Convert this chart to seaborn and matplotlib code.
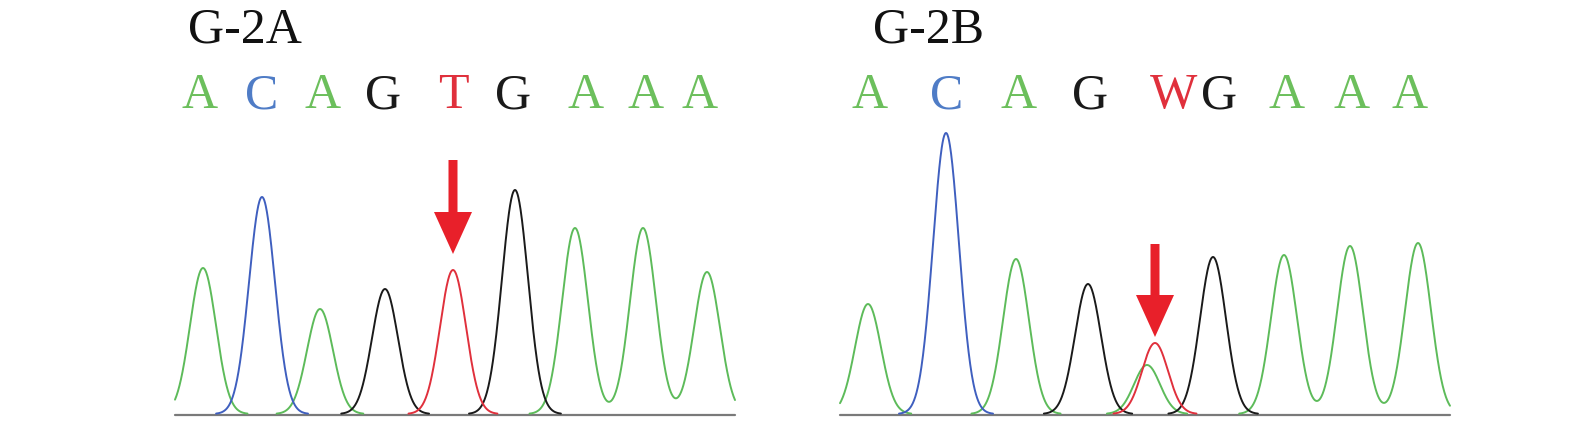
import numpy as np
import pandas as pd
import matplotlib
matplotlib.use("Agg")
import matplotlib.pyplot as plt
import seaborn as sns

sns.set_theme(style="white")
plt.rcParams['font.family'] = ['Liberation Serif', 'DejaVu Serif']

BASE = 414
# panel A
a_letters = ["A", "C", "A", "G", "T", "G", "A", "A", "A"]
a_letter_x = [200, 262, 323, 383, 453, 513, 586, 646, 700]
a_peak_x = [203, 262, 320, 385, 453, 515, 575, 643, 707]
a_peak_top = [268, 197, 309, 289, 270, 190, 228, 228, 272]
a_base = ["A", "C", "A", "G", "T", "G", "A", "A", "A"]
# panel B
b_letters = ["A", "C", "A", "G", "W", "G", "A", "A", "A"]
b_letter_x = [870, 947, 1019, 1090, 1174, 1219, 1287, 1352, 1410]
b_peak_x = [868, 946, 1016, 1088, 1155, 1147, 1213, 1284, 1350, 1418]
b_peak_top = [304, 133, 259, 284, 343, 365, 257, 255, 246, 243]
b_base = ["A", "C", "A", "G", "T", "A", "G", "A", "A", "A"]

col = {"A": "#5dbb5a", "C": "#3f5fbf", "G": "#1a1a1a", "T": "#e0303c", "W": "#e0303c"}
txtcol = {"A": "#6cbf5c", "C": "#4f7cc6", "G": "#1a1a1a", "T": "#e0303c", "W": "#e0303c"}

fig = plt.figure(figsize=(15.75, 4.33), dpi=100)
ax = fig.add_axes([0, 0, 1, 1])
ax.set_xlim(0, 1575)
ax.set_ylim(433, 0)
ax.axis("off")

def panel(x0, x1, px, ptop, bases, sigma=13):
    x = np.linspace(x0, x1, 1500)
    ax.plot([x0, x1], [BASE + 0.5, BASE + 0.5], color="#7a7a7a", lw=1.6)
    for ch in ["A", "C", "G", "T"]:
        y = np.zeros_like(x)
        for p, t, b in zip(px, ptop, bases):
            if b == ch:
                y += (BASE - t) * np.exp(-0.5 * ((x - p) / sigma) ** 2)
        m = y >= 0.4
        df = pd.DataFrame({"x": x[m], "y": BASE - y[m]})
        # split into contiguous segments
        seg = np.cumsum(np.r_[1, np.diff(np.where(m)[0]) > 1])
        df["seg"] = seg
        for _, g in df.groupby("seg"):
            sns.lineplot(data=g, x="x", y="y", color=col[ch], sort=False,
                         lw=1.4, ax=ax, estimator=None)

panel(175, 735, a_peak_x, a_peak_top, a_base)
panel(840, 1450, b_peak_x, b_peak_top, b_base)

for letters, xs in [(a_letters, a_letter_x), (b_letters, b_letter_x)]:
    for l, xx in zip(letters, xs):
        ax.text(xx, 96, l, color=txtcol[l], fontsize=36, ha="center", va="center")
ax.text(188, 30, "G-2A", fontsize=36, ha="left", va="center", color="#111")
ax.text(873, 30, "G-2B", fontsize=36, ha="left", va="center", color="#111")

for xx, y0, y1 in [(453, 160, 254), (1155, 244, 337)]:
    ax.arrow(xx, y0, 0, y1 - y0, width=9, head_width=38, head_length=42,
             length_includes_head=True, color="#e8202a", lw=0)

ax.set_xlim(0, 1575)
ax.set_ylim(433, 0)
ax.axis("off")
fig.savefig("out.png", dpi=100)
